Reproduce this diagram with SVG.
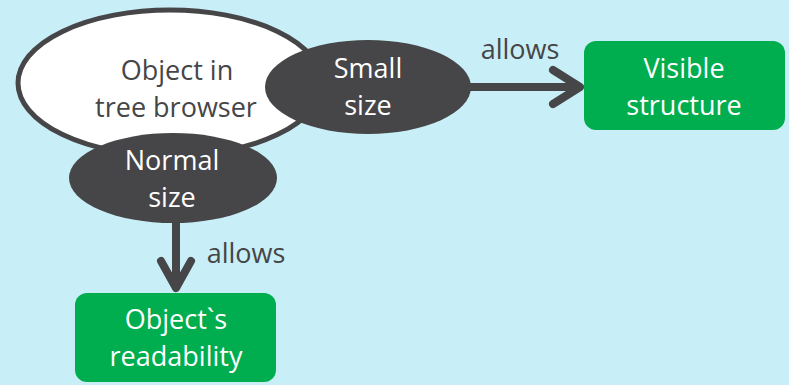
<svg xmlns="http://www.w3.org/2000/svg" width="789" height="385" viewBox="0 0 789 385">
  <style>
    text { font-family: "Open Sans", "DejaVu Sans", sans-serif; font-size: 27px; text-anchor: middle; }
    .dark { fill: #464547; }
    .light { fill: #ffffff; }
    .oval { fill: #464547; }
    .box { fill: #00AE4F; }
    .link { stroke: #464547; stroke-width: 8; fill: none; stroke-linecap: round; stroke-linejoin: round; }
  </style>
  <rect width="789" height="385" fill="#C8EFF7"/>

  <g id="tree-object">
    <ellipse cx="170" cy="83" rx="152" ry="73" fill="#ffffff" stroke="#464547" stroke-width="5"/>
    <text class="dark" x="177" y="80">Object in</text>
    <text class="dark" x="176" y="117">tree browser</text>
  </g>

  <g id="small-size">
    <ellipse class="oval" cx="368" cy="87" rx="103" ry="47"/>
    <text class="light" x="368" y="78">Small</text>
    <text class="light" x="368" y="115">size</text>
  </g>

  <g id="normal-size">
    <ellipse class="oval" cx="173" cy="178" rx="104" ry="45"/>
    <text class="light" x="172" y="170">Normal</text>
    <text class="light" x="172" y="207">size</text>
  </g>

  <g id="visible-structure">
    <rect class="box" x="584" y="41" width="201" height="89" rx="12"/>
    <text class="light" x="684" y="78">Visible</text>
    <text class="light" x="684" y="115">structure</text>
  </g>

  <g id="readability">
    <rect class="box" x="75" y="293" width="201" height="89" rx="12"/>
    <text class="light" x="176" y="329">Object`s</text>
    <text class="light" x="176" y="366">readability</text>
  </g>

  <g id="connectors">
    <path class="link" d="M470 87 H579 M553 70 L580 87 L553 104"/>
    <path class="link" d="M176 222 V286 M161 261 L176 288 L191 261"/>
    <text class="dark" x="520" y="59">allows</text>
    <text class="dark" x="246" y="263">allows</text>
  </g>
</svg>
